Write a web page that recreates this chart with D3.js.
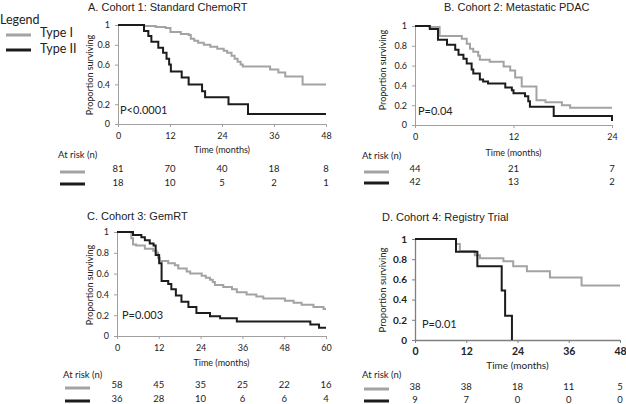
<!DOCTYPE html>
<html><head><meta charset="utf-8">
<script src="https://cdn.jsdelivr.net/npm/d3@7"></script>
<style>body{margin:0;background:#fff}</style></head>
<body><svg id="c" width="626" height="404"></svg>
<script>
// ---------- data ----------
const seriesNames = ["Type I", "Type II"];
const yTickValues = [0, 0.2, 0.4, 0.6, 0.8, 1];
const yTickLabels = ["0", "0.2", "0.4", "0.6", "0.8", "1"];

const titleA = "A. Cohort 1: Standard ChemoRT";
const xTicksA = [0, 12, 24, 36, 48];
const typeI_A = [[0,1],[6,0.99],[8.7,0.98],[11,0.97],[12.1,0.93],[14.5,0.91],[16.3,0.9],[16.8,0.86],[17.6,0.84],[18.5,0.82],[19.8,0.8],[21.3,0.78],[22.9,0.76],[24.4,0.74],[25.2,0.72],[26.2,0.69],[26.9,0.66],[27.6,0.63],[28.3,0.6],[28.8,0.58],[35.1,0.55],[37,0.52],[38.6,0.48],[42.6,0.40],[48,0.40]];
const typeII_A = [[0,1],[6,0.94],[7,0.89],[7.7,0.83],[9.3,0.77],[10.4,0.72],[11.2,0.66],[11.8,0.6],[12.2,0.53],[14.7,0.47],[16.3,0.4],[19.4,0.33],[20.1,0.27],[25.5,0.2],[30,0.1],[48,0.1]];
const riskI_A = [81, 70, 40, 18, 8];
const riskII_A = [18, 10, 5, 2, 1];
const pA = "P<0.0001";

const titleB = "B. Cohort 2: Metastatic PDAC";
const xTicksB = [0, 12, 24];
const typeI_B = [[0,1],[1.8,0.99],[3,0.9],[5.7,0.87],[6.3,0.82],[6.7,0.77],[7.1,0.74],[7.7,0.7],[7.9,0.66],[9.1,0.64],[10.8,0.59],[11.6,0.55],[12.2,0.48],[13,0.39],[14.8,0.25],[15.9,0.23],[17.9,0.2],[18.9,0.175],[24,0.175]];
const typeII_B = [[0,1],[1.8,0.97],[2.8,0.86],[3.9,0.81],[4.9,0.76],[5.3,0.71],[5.9,0.67],[6.3,0.62],[6.9,0.56],[7.1,0.52],[7.9,0.46],[8.3,0.44],[8.9,0.42],[11,0.38],[11.8,0.35],[12,0.32],[13.4,0.29],[13.8,0.24],[14,0.185],[16.9,0.09],[24,0.09],[24,0.04]];
const riskI_B = [44, 21, 7];
const riskII_B = [42, 13, 2];
const pB = "P=0.04";

const titleC = "C. Cohort 3: GemRT";
const xTicksC = [0, 12, 24, 36, 48, 60];
const typeI_C = [[0,1],[4.1,0.94],[4.6,0.88],[5.5,0.87],[8,0.84],[10.4,0.82],[11.3,0.8],[11.8,0.75],[12.3,0.72],[14.7,0.7],[16.6,0.68],[17.6,0.65],[20,0.62],[21,0.6],[24.3,0.58],[25.5,0.56],[26.7,0.54],[27.5,0.52],[28.1,0.49],[30.5,0.47],[33,0.45],[34.4,0.42],[37.2,0.4],[40,0.38],[42,0.36],[48.2,0.34],[50.7,0.32],[53,0.3],[56.4,0.28],[59.3,0.26],[60,0.26]];
const typeII_C = [[0,1],[4.6,0.97],[7,0.95],[8,0.92],[9.4,0.89],[10.5,0.87],[11.1,0.78],[12.1,0.7],[12.8,0.53],[14.7,0.5],[15.6,0.45],[16.9,0.39],[18.5,0.33],[20.5,0.28],[22.8,0.22],[26.7,0.19],[29.6,0.17],[34.4,0.14],[55.5,0.11],[58,0.08],[60,0.08]];
const riskI_C = [58, 45, 35, 25, 22, 16];
const riskII_C = [36, 28, 10, 6, 6, 4];
const pC = "P=0.003";

const titleD = "D. Cohort 4: Registry Trial";
const xTicksD = [0, 12, 24, 36, 48];
const typeI_D = [[0,1],[9.6,0.95],[10.5,0.88],[14,0.84],[15.2,0.81],[20.7,0.78],[23,0.73],[26.2,0.68],[31.6,0.62],[39,0.54],[48,0.54]];
const typeII_D = [[0,1],[9.6,0.875],[14.6,0.73],[20.3,0.49],[21.1,0.24],[22.7,0],[22.7,0]];
const riskI_D = [38, 38, 18, 11, 5];
const riskII_D = [9, 7, 0, 0, 0];
const pD = "P=0.01";

// ---------- drawing ----------
const svg = d3.select("#c");
const colI = "#a3a3a3", colII = "#1c1c1c", axisCol = "#a0a0a0", txt = "#222";
const sans = "'Liberation Sans', Arial, sans-serif";
const hum = "Lato, 'Open Sans', sans-serif";

// legend
svg.append("text").attr("x", 0).attr("y", 24).text("Legend")
  .attr("font-family", hum).attr("font-size", 12.5).attr("fill", txt);
[[colI, 35, 37], [colII, 50, 53]].forEach((d, i) => {
  svg.append("line").attr("x1", 6).attr("x2", 31).attr("y1", d[1]).attr("y2", d[1])
    .attr("stroke", d[0]).attr("stroke-width", 3);
  svg.append("text").attr("x", 40).attr("y", d[2]).text(seriesNames[i])
    .attr("font-family", hum).attr("font-size", 12.5).attr("fill", txt);
});

function panel(c) {
  const g = svg.append("g");
  const x = d3.scaleLinear().domain([0, c.xTicks[c.xTicks.length - 1]]).range([c.x0, c.x1]);
  const y = d3.scaleLinear().domain([0, 1]).range([c.yb, c.yt]);
  const big = !!c.big;

  g.append("text").attr("x", c.tx).attr("y", c.ty).text(c.title)
    .attr("font-family", sans).attr("font-size", 11).attr("fill", txt);

  const ax = g.append("g").attr("transform", `translate(0,${c.yb})`)
    .call(d3.axisBottom(x).tickValues(c.xTicks).tickSize(3).tickSizeOuter(0).tickPadding(big ? 5 : 6));
  const ay = g.append("g").attr("transform", `translate(${c.x0},0)`)
    .call(d3.axisLeft(y).tickValues(yTickValues).tickSize(3).tickSizeOuter(0).tickPadding(5)
      .tickFormat((d, i) => yTickLabels[i]));
  [ax, ay].forEach(a => {
    a.select(".domain").attr("stroke", big ? "#808080" : axisCol).attr("stroke-width", big ? 1.3 : 1);
    a.selectAll(".tick line").attr("stroke", big ? "#808080" : axisCol);
    a.selectAll("text").attr("font-family", hum).attr("fill", txt);
  });
  ax.selectAll("text").attr("font-size", big ? 10.5 : 9).attr("font-weight", big ? 700 : 400);
  ay.selectAll("text").attr("font-size", big ? 10 : 9).attr("font-weight", big ? 700 : 400);

  g.append("text").attr("x", (c.x0 + c.x1) / 2).attr("y", c.xlabY).attr("text-anchor", "middle")
    .attr("dy", "0.35em").text("Time (months)")
    .attr("font-family", hum).attr("font-size", big ? 10 : 9).attr("fill", txt);
  g.append("text").attr("transform", `translate(${c.ylabX},${c.ylabY}) rotate(-90)`)
    .attr("text-anchor", "middle").attr("dy", "0.35em").text("Proportion surviving")
    .attr("font-family", hum).attr("font-size", big ? 9.5 : 9).attr("fill", txt);

  const line = d3.line().x(d => x(d[0])).y(d => y(d[1])).curve(d3.curveStepAfter);
  g.append("path").attr("d", line(c.s1)).attr("fill", "none").attr("stroke", colI).attr("stroke-width", 2);
  g.append("path").attr("d", line(c.s2)).attr("fill", "none").attr("stroke", colII).attr("stroke-width", 2);

  g.append("text").attr("x", c.px).attr("y", c.py).attr("dy", "0.35em").text(c.p)
    .attr("font-family", hum).attr("font-size", 11).attr("fill", txt);

  // at risk
  g.append("text").attr("x", c.rx).attr("y", c.ry).attr("dy", "0.35em").text("At risk (n)")
    .attr("font-family", hum).attr("font-size", 9.5).attr("fill", txt);
  g.append("line").attr("x1", c.rx + 2).attr("x2", c.rx + 27).attr("y1", c.l1).attr("y2", c.l1)
    .attr("stroke", colI).attr("stroke-width", 3);
  g.append("line").attr("x1", c.rx + 2).attr("x2", c.rx + 27).attr("y1", c.l2).attr("y2", c.l2)
    .attr("stroke", colII).attr("stroke-width", 3);
  [[c.r1, c.n1], [c.r2, c.n2]].forEach(([arr, yy]) => {
    g.selectAll(null).data(arr).enter().append("text")
      .attr("x", (d, i) => x(c.xTicks[i])).attr("y", yy).attr("dy", "0.35em")
      .attr("text-anchor", "middle").text(d => d)
      .attr("font-family", hum).attr("font-size", 9.5).attr("fill", txt);
  });
}

panel({title: titleA, tx: 88, ty: 11, x0: 118, x1: 326, yt: 25, yb: 124, xTicks: xTicksA,
  s1: typeI_A, s2: typeII_A, p: pA, px: 120, py: 110, xlabY: 150, ylabX: 90, ylabY: 75,
  r1: riskI_A, r2: riskII_A, rx: 58, ry: 155, l1: 172, l2: 184, n1: 169, n2: 183});
panel({title: titleB, tx: 444, ty: 11, x0: 415, x1: 612, yt: 26, yb: 125, xTicks: xTicksB,
  s1: typeI_B, s2: typeII_B, p: pB, px: 418, py: 111, xlabY: 153, ylabX: 383, ylabY: 70,
  r1: riskI_B, r2: riskII_B, rx: 362, ry: 156, l1: 172, l2: 183, n1: 169, n2: 182});
panel({title: titleC, tx: 87, ty: 219.5, x0: 117, x1: 326, yt: 232, yb: 336, xTicks: xTicksC,
  s1: typeI_C, s2: typeII_C, p: pC, px: 122, py: 315, xlabY: 363, ylabX: 90, ylabY: 285,
  r1: riskI_C, r2: riskII_C, rx: 63, ry: 375, l1: 388, l2: 401, n1: 385, n2: 399});
panel({title: titleD, tx: 382, ty: 221, x0: 415, x1: 620, yt: 239, yb: 340, xTicks: xTicksD, big: true,
  s1: typeI_D, s2: typeII_D, p: pD, px: 422, py: 324, xlabY: 365, ylabX: 383, ylabY: 290,
  r1: riskI_D, r2: riskII_D, rx: 362, ry: 375, l1: 389, l2: 401, n1: 387, n2: 400});
</script></body></html>
